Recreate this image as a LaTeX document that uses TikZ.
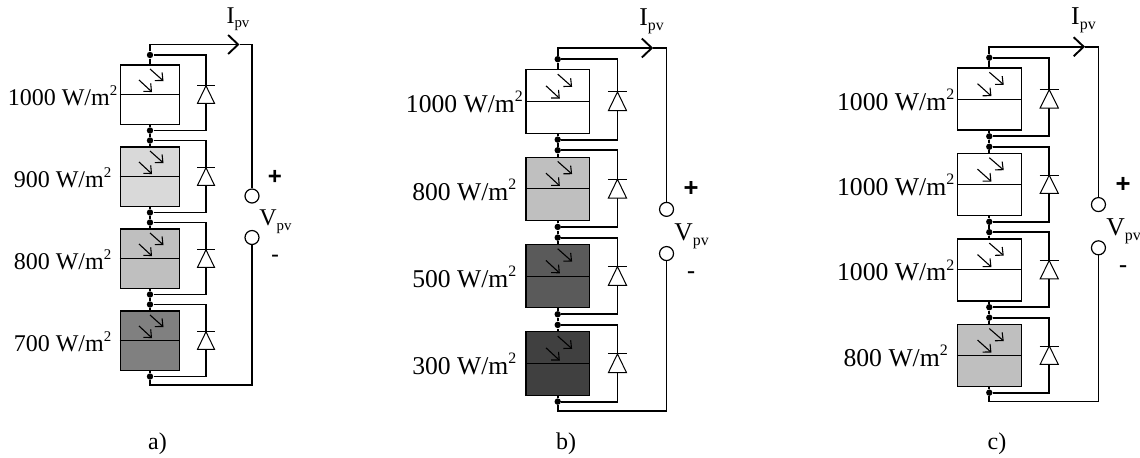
\documentclass[tikz,border=0pt]{standalone}
\usepackage{fontspec}
\setmainfont{Liberation Serif}
\newfontfamily\signfont{Liberation Sans}
\usetikzlibrary{arrows.meta,calc}
\definecolor{sun1000}{HTML}{FFFFFF}
\definecolor{sun900}{HTML}{D9D9D9}
\definecolor{sun800}{HTML}{BFBFBF}
\definecolor{sun700}{HTML}{808080}
\definecolor{sun500}{HTML}{5A5A5A}
\definecolor{sun300}{HTML}{404040}
\tikzset{
  wire/.style={line width=0.95pt},
  part/.style={line width=0.5pt},
  cell/.style={draw, line width=0.6pt, inner sep=0pt},
  ray/.style={line width=0.55pt, -{Straight Barb[length=3pt,width=5.5pt]}},
  dot/.style={circle, fill=black, inner sep=0pt, minimum size=3.2pt},
  term/.style={circle, draw, fill=white, line width=0.6pt, inner sep=0pt, minimum size=7pt}
}
\newcommand{\pvfont}{\fontsize{\fsz}{\fsz}\selectfont}
\newcommand{\pvsup}[1]{\raisebox{0.42em}{\fontsize{0.62em}{0.62em}\selectfont #1}}
\newcommand{\pvsub}[1]{\raisebox{-0.2em}{\fontsize{0.62em}{0.62em}\selectfont #1}}
% #1 name, #2 x of string, #3 y of top rail, #4 x scale, #5 y scale, #6 cells
\newcommand{\pvstring}[6]{
  \pgfmathsetmacro{\fsz}{12*#4}
  \begin{scope}[shift={(#2,#3)}, x=#4*0.5pt, y=-#5*0.5pt]
    \foreach \n/\lab/\col in {#6} {
      \pgfmathsetmacro{\cy}{50.25+82*(\n-1)}
      \pgfmathsetmacro{\gap}{\n==1 ? 39.75 : 36.25}
      \pgfmathtruncatemacro{\p}{\n-1}
      \node[cell, fill=\col, minimum width=#4*29.75pt, minimum height=#5*29.75pt] (#1\n) at (0,\cy) {};
      \node[anchor=base, font=\pvfont] (#1\n l) at (-87.5,\cy+10.5) {\lab~W/m\pvsup{2}};
      \node[dot] (#1\n t) at (0,\cy-\gap) {};
      \node[dot] (#1\n b) at (0,\cy+35.75) {};
      \draw[part] (#1\n.west) -- (#1\n.east);
      \draw[wire] (#1\n t) -- (#1\n.north);
      \draw[wire] (#1\n.south) -- (#1\n b);
      \ifnum\n>1 \draw[wire] (#1\p b) -- (#1\n t); \fi
      % light rays
      \coordinate (#1\n r1) at (0,\cy-25.75);
      \coordinate (#1\n r2) at (13.5,\cy-13.75);
      \coordinate (#1\n r3) at (-11,\cy-14.75);
      \coordinate (#1\n r4) at (2,\cy-2.75);
      \draw[ray] (#1\n r1) -- (#1\n r2);
      \draw[ray] (#1\n r3) -- (#1\n r4);
      % bypass diode
      \coordinate (#1\n k) at (56,\cy-9);
      \coordinate (#1\n g) at (56,\cy+8.6);
      \draw[wire] (#1\n t) -| (#1\n k);
      \draw[wire] (#1\n g) |- (#1\n b);
      \draw[part, fill=white] (#1\n k) -- ($(#1\n g)+(-8.5,0)$) -- ($(#1\n g)+(8.5,0)$) -- cycle;
      \draw[part] ($(#1\n k)+(-9,0)$) -- ($(#1\n k)+(9,0)$);
    }
    % output terminals
    \coordinate (#1rail) at (0,0);
    \coordinate (#1tip) at (89.5,0);
    \coordinate (#1low) at (0,340.5);
    \node[term] (#1p) at (102,151.5) {};
    \node[term] (#1m) at (102,193) {};
    \draw[wire, -{Straight Barb[length=5pt,width=9.5pt]}] (#11t) -- (#1rail) -- (#1tip);
    \draw[wire] (#1tip) -| (#1p);
    \draw[wire] (#14b) -- (#1low) -| (#1m);
    \node[anchor=base, font=\pvfont] (#1i) at (88,-21.5) {I\pvsub{pv}};
    \node[anchor=base, font=\pvfont] (#1v) at (125.5,181) {V\pvsub{pv}};
    \node[font=\signfont\bfseries\pvfont] (#1s) at (125,132.5) {+};
    \node[font=\signfont\pvfont] (#1d) at (125,214) {-};
  \end{scope}
}
\begin{document}
\begin{tikzpicture}[x=0.5pt, y=-0.5pt]
\useasboundingbox (0,0) rectangle (1140,457);

\pvstring{a}{150}{44.5}{1}{1}{1/1000/sun1000, 2/900/sun900, 3/800/sun800, 4/700/sun700}
\pvstring{b}{557.7}{48}{1.067}{1.065}{1/1000/sun1000, 2/800/sun800, 3/500/sun500, 4/300/sun300}
\pvstring{c}{989.3}{46.7}{1.07}{1.042}{1/1000/sun1000, 2/1000/sun1000, 3/1000/sun1000, 4/800/sun800}

% captions
\node[anchor=base, font=\fontsize{12}{14}\selectfont] (capa) at (157.5,449) {a)};
\node[anchor=base, font=\fontsize{12}{14}\selectfont] (capb) at (566,449) {b)};
\node[anchor=base, font=\fontsize{12}{14}\selectfont] (capc) at (997,449) {c)};
\end{tikzpicture}
\end{document}
